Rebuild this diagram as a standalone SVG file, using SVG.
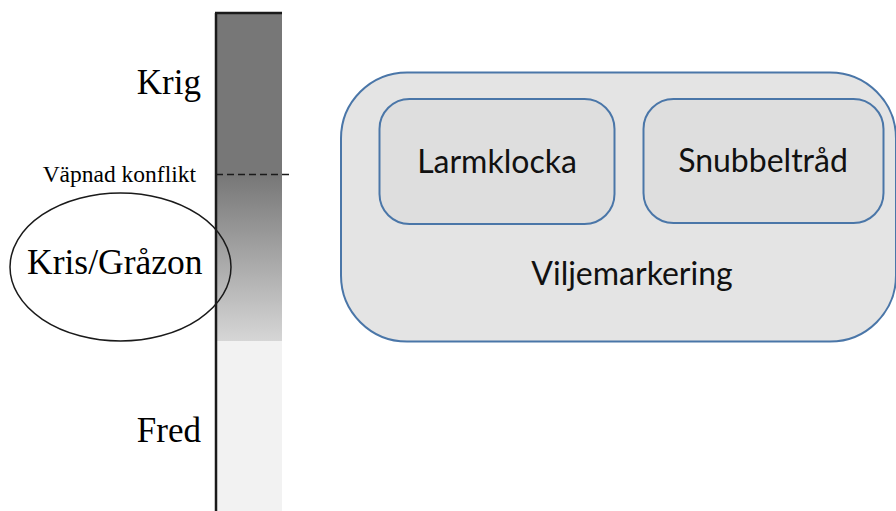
<svg xmlns="http://www.w3.org/2000/svg" width="896" height="511" viewBox="0 0 896 511">
<defs>
<linearGradient id="grad" x1="0" y1="0" x2="0" y2="1">
<stop offset="0" stop-color="#777777"/>
<stop offset="1" stop-color="#d6d6d6"/>
</linearGradient>
<style>
.serif{font-family:"Liberation Serif","Times New Roman",serif;fill:#000;text-anchor:end}
.sans{font-family:Lato,"Open Sans",sans-serif;fill:#111;text-anchor:middle}
.box{stroke:#4a76a8;stroke-width:2}
</style>
</defs>
<rect width="896" height="511" fill="#ffffff"/>
<g id="scale">
<rect x="216" y="13" width="66" height="162" fill="#777777"/>
<rect x="216" y="175" width="66" height="166" fill="url(#grad)"/>
<rect x="216" y="341" width="66" height="170" fill="#f2f2f2"/>
<line x1="216" y1="13" x2="216" y2="511" stroke="#1a1a1a" stroke-width="2.5"/>
<line x1="215" y1="13" x2="282" y2="13" stroke="#1a1a1a" stroke-width="2.5"/>
<line x1="216" y1="174.5" x2="291" y2="174.5" stroke="#1a1a1a" stroke-width="1.5" stroke-dasharray="7,4"/>
<text class="serif" x="201" y="94" font-size="35">Krig</text>
<text class="serif" x="196" y="181.5" font-size="23.5">Väpnad konflikt</text>
<text class="serif" x="201" y="441.5" font-size="35">Fred</text>
</g>
<g id="kris">
<ellipse cx="120.5" cy="267" rx="110.5" ry="74" fill="none" stroke="#1a1a1a" stroke-width="1.5"/>
<text class="serif" x="202.5" y="274" font-size="35.5">Kris/Gråzon</text>
</g>
<g id="viljemarkering">
<rect class="box" x="341" y="72.5" width="555" height="269" rx="66" ry="66" fill="#e4e4e4"/>
<text class="sans" x="632" y="285" font-size="32">Viljemarkering</text>
</g>
<g id="larmklocka">
<rect class="box" x="379.5" y="99" width="235" height="125" rx="30" ry="30" fill="#dedede"/>
<text class="sans" x="497" y="173" font-size="32">Larmklocka</text>
</g>
<g id="snubbeltrad">
<rect class="box" x="643.5" y="99" width="240" height="124" rx="30" ry="30" fill="#dedede"/>
<text class="sans" x="763" y="172" font-size="32">Snubbeltråd</text>
</g>
<g id="connectors"></g>
</svg>
